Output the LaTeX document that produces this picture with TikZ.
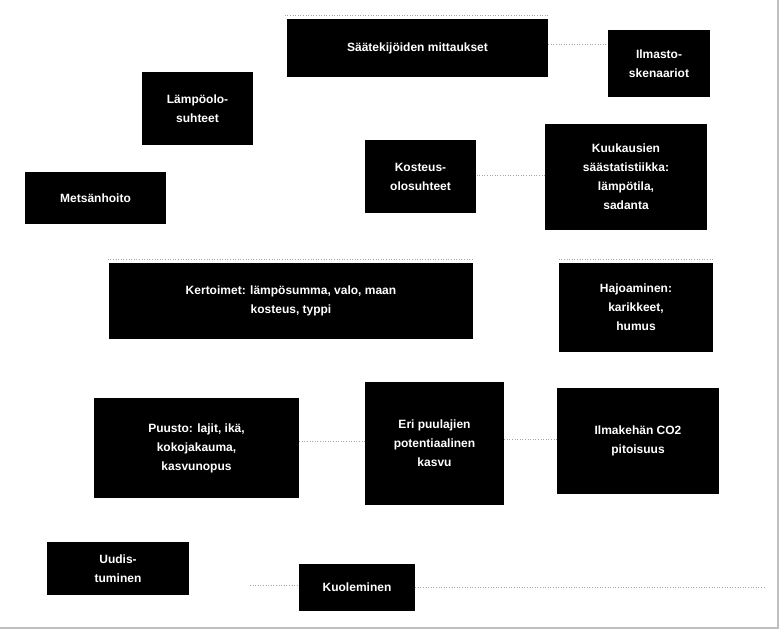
\documentclass[tikz,border=0pt]{standalone}
\usepackage{fontspec}
\setmainfont{Liberation Sans}
\begin{document}
\begin{tikzpicture}[x=1pt,y=-1pt,
  bx/.style={fill=black,text=white,font=\bfseries\fontsize{12}{19}\selectfont,align=center,inner sep=0pt},
  dl/.style={draw=gray!70,dotted,line width=0.6pt}]
\useasboundingbox (0,0) rectangle (780,630);
\draw[gray!50,line width=1.5pt] (778,0) -- (778,628) -- (0,628);
\newcommand{\bxn}[6]{\node[bx,minimum width={#4-#2},minimum height={#5-#3}] (#1) at ({(#2+#4)/2},{(#3+#5)/2}) {#6};}
\bxn{sm}{287}{19}{548}{77}{Säätekijöiden mittaukset}
\bxn{il}{608}{30}{710}{97}{Ilmasto-\\skenaariot}
\bxn{lo}{142}{72}{253}{145}{Lämpöolo-\\suhteet}
\bxn{ko}{365}{140}{476}{213}{Kosteus-\\olosuhteet}
\bxn{kk}{545}{124}{707}{230}{Kuukausien\\säästatistiikka:\\lämpötila,\\sadanta}
\bxn{mh}{25}{172}{166}{224}{Metsänhoito}
\bxn{ke}{109}{263}{473}{339}{Kertoimet: lämpösumma, valo, maan\\kosteus, typpi}
\bxn{ha}{559}{263}{713}{352}{Hajoaminen:\\karikkeet,\\humus}
\bxn{pu}{94}{398}{299}{498}{Puusto: lajit, ikä,\\kokojakauma,\\kasvunopus}
\bxn{ep}{365}{382}{504}{505}{Eri puulajien\\potentiaalinen\\kasvu}
\bxn{co}{557}{388}{719}{494}{Ilmakehän CO2\\pitoisuus}
\bxn{uu}{47}{542}{189}{595}{Uudis-\\tuminen}
\bxn{kl}{299}{564}{415}{611}{Kuoleminen}
\draw[dl] (sm.east|-0,44) -- (il.west|-0,44);
\draw[dl] (kk.west|-0,175) -- (ko.east|-0,175);
\draw[dl] (co.west|-0,439) -- (ep.east|-0,439);
\draw[dl] (ep.west|-0,441) -- (pu.east|-0,441);
\draw[dl] (kl.east) -- ++(350,0);
\coordinate (kw) at (250,585);
\draw[dl] (kw) -- (kl.west|-kw);
\draw[dl] (sm.north west) ++(-2,-4) -- ++(265,0);
\draw[dl] (ke.north west) ++(-1,-4) -- ++(366,0);
\draw[dl] (ha.north west) ++(0,-4) -- ++(154,0);
\end{tikzpicture}
\end{document}
